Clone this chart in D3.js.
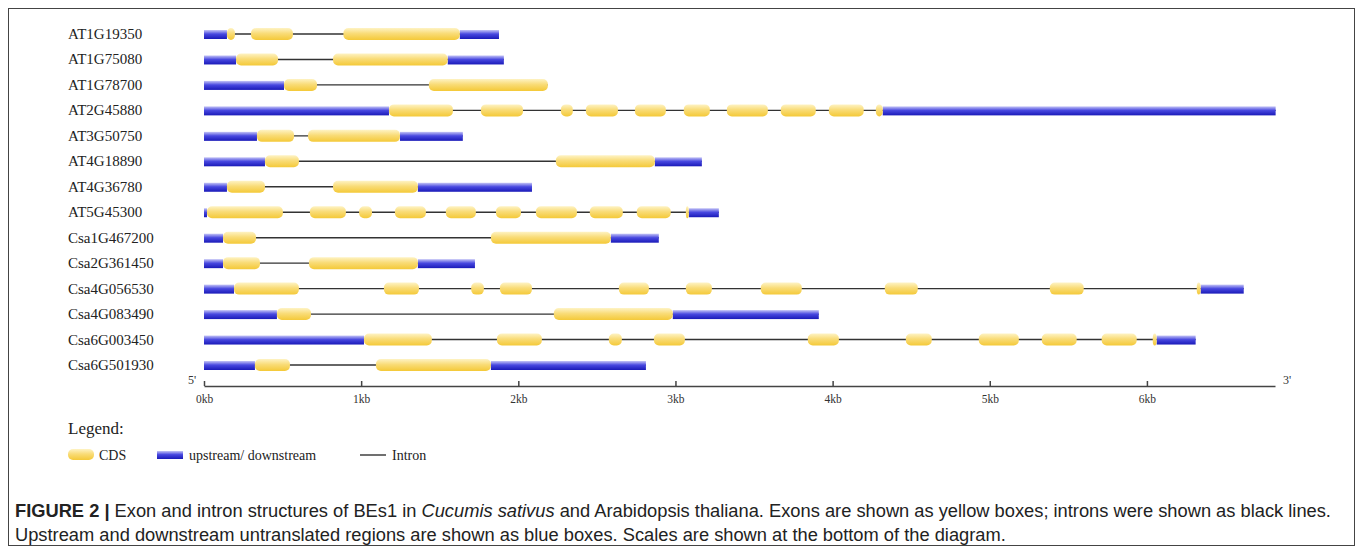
<!DOCTYPE html>
<html>
<head>
<meta charset="utf-8">
<script src="https://cdn.jsdelivr.net/npm/d3@7"></script>
<style>
  html, body { margin: 0; padding: 0; background: #fff; }
  svg { display: block; }
</style>
</head>
<body>
<svg id="chart" width="1363" height="554"></svg>
<script>
// ---------------- DATA (positions in kb) ----------------
const genes = [
  "AT1G19350", "AT1G75080", "AT1G78700", "AT2G45880", "AT3G50750",
  "AT4G18890", "AT4G36780", "AT5G45300", "Csa1G467200", "Csa2G361450",
  "Csa4G056530", "Csa4G083490", "Csa6G003450", "Csa6G501930"
];

// CDS (exon) segments per gene, [start, end] in kb
const cds = [
  [[0.146,0.197],[0.299,0.566],[0.887,1.628]],
  [[0.204,0.471],[0.821,1.551]],
  [[0.509,0.719],[1.431,2.188]],
  [[1.177,1.584],[1.762,2.030],[2.271,2.347],[2.430,2.634],[2.742,2.939],[3.053,3.219],
   [3.327,3.588],[3.670,3.893],[3.976,4.198],[4.275,4.319]],
  [[0.337,0.573],[0.662,1.247]],
  [[0.388,0.604],[2.239,2.869]],
  [[0.146,0.388],[0.821,1.361]],
  [[0.019,0.502],[0.674,0.903],[0.987,1.069],[1.215,1.412],[1.539,1.730],[1.858,2.017],
   [2.112,2.373],[2.455,2.665],[2.754,2.970],[3.066,3.085]],
  [[0.121,0.331],[1.826,2.589]],
  [[0.121,0.356],[0.668,1.361]],
  [[0.191,0.604],[1.145,1.368],[1.700,1.781],[1.883,2.087],[2.640,2.831],[3.066,3.232],
   [3.543,3.804],[4.332,4.542],[5.382,5.598],[6.317,6.342]],
  [[0.464,0.681],[2.226,2.983]],
  [[1.018,1.450],[1.864,2.150],[2.576,2.659],[2.863,3.060],[3.842,4.040],[4.466,4.631],
   [4.930,5.185],[5.331,5.553],[5.712,5.935],[6.037,6.062]],
  [[0.324,0.547],[1.094,1.826]]
];

// upstream / downstream UTR segments per gene
const utr = [
  [[0,0.146],[1.628,1.877]],
  [[0,0.204],[1.551,1.908]],
  [[0,0.509]],
  [[0,1.177],[4.319,6.819]],
  [[0,0.337],[1.247,1.647]],
  [[0,0.388],[2.869,3.168]],
  [[0,0.146],[1.361,2.087]],
  [[0,0.019],[3.085,3.276]],
  [[0,0.121],[2.589,2.894]],
  [[0,0.121],[1.361,1.724]],
  [[0,0.191],[6.342,6.616]],
  [[0,0.464],[2.983,3.912]],
  [[0,1.018],[6.062,6.310]],
  [[0,0.324],[1.826,2.812]]
];

const tickValues = [0, 1, 2, 3, 4, 5, 6];
const tickLabels = ["0kb", "1kb", "2kb", "3kb", "4kb", "5kb", "6kb"];
const axisMax = 6.815;

const legendItems = ["CDS", "upstream/ downstream", "Intron"];

// ---------------- DRAW ----------------
const svg = d3.select("#chart");
const serif = "'Liberation Serif', 'Times New Roman', serif";
const sans = "'Liberation Sans', Arial, Helvetica, sans-serif";

const defs = svg.append("defs");
const gy = defs.append("linearGradient").attr("id", "gYellow")
  .attr("x1", 0).attr("y1", 0).attr("x2", 0).attr("y2", 1);
gy.append("stop").attr("offset", "0%").attr("stop-color", "#fef3c4");
gy.append("stop").attr("offset", "45%").attr("stop-color", "#f9dc78");
gy.append("stop").attr("offset", "100%").attr("stop-color", "#f4c938");
const gb = defs.append("linearGradient").attr("id", "gBlue")
  .attr("x1", 0).attr("y1", 0).attr("x2", 0).attr("y2", 1);
gb.append("stop").attr("offset", "0%").attr("stop-color", "#c4c4f6");
gb.append("stop").attr("offset", "45%").attr("stop-color", "#4848e0");
gb.append("stop").attr("offset", "100%").attr("stop-color", "#1a1ab8");

// frame
svg.append("rect")
  .attr("x", 8.5).attr("y", 8.5).attr("width", 1346).attr("height", 537)
  .attr("fill", "none").attr("stroke", "#444").attr("stroke-width", 1);

const x = d3.scaleLinear().domain([0, axisMax]).range([204, 1275]);
const y = d3.scalePoint().domain(genes).range([34, 365]);

const exonH = 12, utrH = 9;

const rows = svg.append("g").selectAll("g.gene")
  .data(genes.map((g, i) => ({ name: g, cds: cds[i], utr: utr[i] })))
  .join("g").attr("class", "gene")
  .attr("transform", d => `translate(0,${y(d.name)})`);

rows.append("text")
  .attr("x", 68).attr("y", 5)
  .attr("font-family", serif).attr("font-size", 15).attr("fill", "#222")
  .text(d => d.name);

// intron line spanning the gene
rows.append("line")
  .attr("x1", d => x(d3.min(d.cds.concat(d.utr), s => s[0])))
  .attr("x2", d => x(d3.max(d.cds.concat(d.utr), s => s[1])))
  .attr("y1", 0).attr("y2", 0)
  .attr("stroke", "#333").attr("stroke-width", 1.4);

rows.selectAll("rect.utr").data(d => d.utr).join("rect").attr("class", "utr")
  .attr("x", s => x(s[0])).attr("width", s => x(s[1]) - x(s[0]))
  .attr("y", -utrH / 2 + 0.5).attr("height", utrH)
  .attr("fill", "url(#gBlue)");

rows.selectAll("rect.cds").data(d => d.cds).join("rect").attr("class", "cds")
  .attr("x", s => x(s[0])).attr("width", s => x(s[1]) - x(s[0]))
  .attr("y", -exonH / 2).attr("height", exonH)
  .attr("rx", s => Math.min(5, (x(s[1]) - x(s[0])) / 2)).attr("ry", 5)
  .attr("fill", "url(#gYellow)");

// scale axis
const axis = d3.axisBottom(x)
  .tickValues(tickValues)
  .tickFormat((d, i) => tickLabels[i])
  .tickSizeInner(-5).tickSizeOuter(0).tickPadding(9);
const ax = svg.append("g").attr("transform", "translate(0,386)").call(axis);
ax.select(".domain").attr("stroke", "#444").attr("stroke-width", 1.5);
ax.selectAll(".tick line").attr("stroke", "#444").attr("stroke-width", 1.5);
ax.selectAll(".tick text").attr("font-family", serif).attr("font-size", 11.5).attr("fill", "#333");

svg.append("text").attr("x", 188).attr("y", 384)
  .attr("font-family", serif).attr("font-size", 12).attr("fill", "#333").text("5'");
svg.append("text").attr("x", 1283).attr("y", 384)
  .attr("font-family", serif).attr("font-size", 12).attr("fill", "#333").text("3'");

// legend
svg.append("text").attr("x", 68).attr("y", 434)
  .attr("font-family", serif).attr("font-size", 17).attr("fill", "#222").text("Legend:");
const ly = 455;
svg.append("rect").attr("x", 68).attr("y", ly - 6).attr("width", 26).attr("height", 11)
  .attr("rx", 5).attr("fill", "url(#gYellow)");
svg.append("text").attr("x", 99).attr("y", ly + 5)
  .attr("font-family", serif).attr("font-size", 14).attr("fill", "#222").text(legendItems[0]);
svg.append("rect").attr("x", 157).attr("y", ly - 4).attr("width", 26).attr("height", 8)
  .attr("fill", "url(#gBlue)");
svg.append("text").attr("x", 189).attr("y", ly + 5)
  .attr("font-family", serif).attr("font-size", 14).attr("fill", "#222").text(legendItems[1]);
svg.append("line").attr("x1", 360).attr("x2", 386).attr("y1", ly).attr("y2", ly)
  .attr("stroke", "#333").attr("stroke-width", 1.4);
svg.append("text").attr("x", 392).attr("y", ly + 5)
  .attr("font-family", serif).attr("font-size", 14).attr("fill", "#222").text(legendItems[2]);

// caption
const cap = svg.append("g").attr("font-family", sans).attr("fill", "#222").attr("font-size", 18.3);
const l1 = cap.append("text").attr("x", 15).attr("y", 517);
l1.append("tspan").attr("font-weight", "bold").text("FIGURE 2 | ");
l1.append("tspan").text("Exon and intron structures of BEs1 in ");
l1.append("tspan").attr("font-style", "italic").text("Cucumis sativus");
l1.append("tspan").text(" and Arabidopsis thaliana. Exons are shown as yellow boxes; introns were shown as black lines.");
cap.append("text").attr("x", 15).attr("y", 541)
  .text("Upstream and downstream untranslated regions are shown as blue boxes. Scales are shown at the bottom of the diagram.");
</script>
</body>
</html>
